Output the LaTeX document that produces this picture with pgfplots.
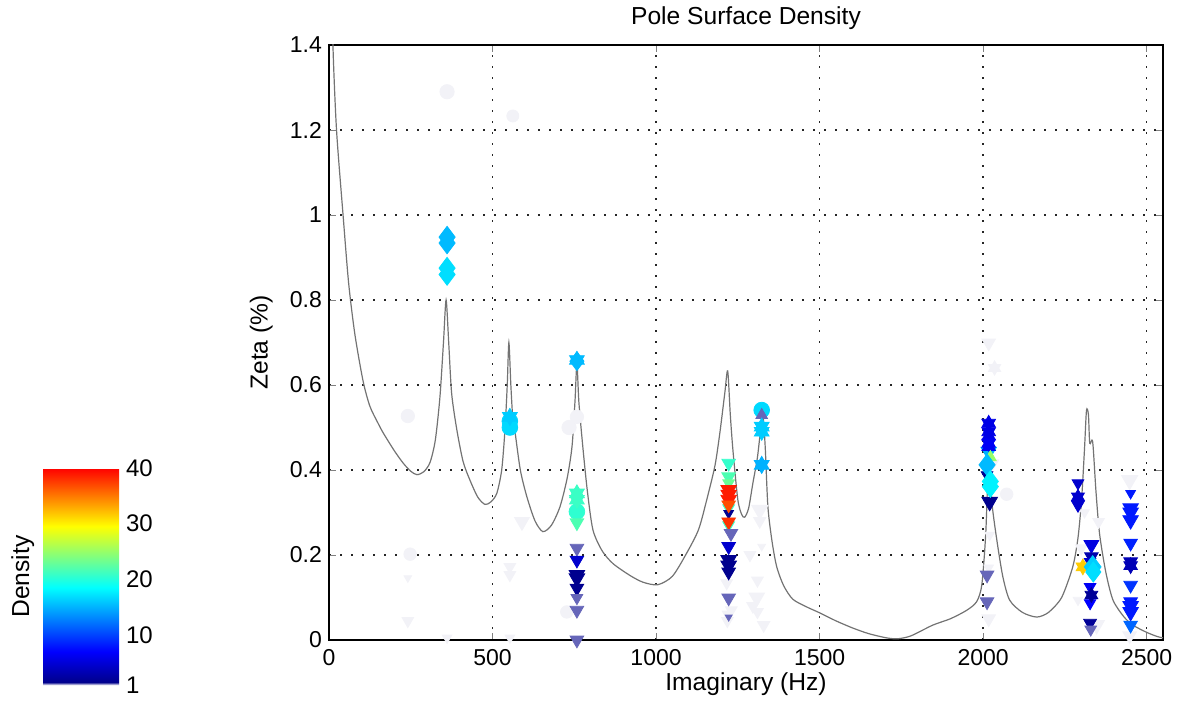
\documentclass[border=0pt]{standalone}
\usepackage{fontspec}
\setmainfont{Liberation Sans}
\usepackage{pgfplots}
\pgfplotsset{compat=1.18}
\pgfplotsset{
  dens/.style={scatter, only marks, point meta=explicit,
    scatter/use mapped color={draw=mapped color, fill=mapped color},
    visualization depends on={1.12*\thisrow{s}\as\ms},
    scatter/@pre marker code/.append style={/tikz/mark size=\ms}},
}
\begin{document}
\begin{tikzpicture}
\path[use as bounding box] (-164.5pt,-33pt) rectangle (426pt,320pt);
\begin{axis}[
  at={(0,0)}, anchor=south west,
  scale only axis, width=417pt, height=297.5pt,
  xmin=0, xmax=2550, ymin=0, ymax=1.4,
  xtick={0,500,1000,1500,2000,2500},
  ytick={0,0.2,0.4,0.6,0.8,1,1.2,1.4},
  tick pos=both, tick align=inside, major tick length=3.5pt,
  scaled ticks=false,
  /pgf/number format/1000 sep={},
  /pgf/number format/assume math mode=true,
  tick label style={font=\fontsize{11.5}{13}\selectfont},
  xticklabel style={yshift=-1.2pt},
  label style={font=\fontsize{12.3}{14}\selectfont},
  every axis title shift=0pt,
  title style={font=\fontsize{12.3}{14}\selectfont, at={(axis description cs:0.5,1.0336)}, anchor=base, yshift=0pt},
  title={Pole Surface Density},
  xlabel={Imaginary (Hz)},
  ylabel={Zeta (\%)},
  xlabel style={at={(axis description cs:0.5,-0.085)}, anchor=base},
  ylabel style={at={(axis description cs:-0.0736,0.5)}, anchor=base},
  axis line style={line width=0.9pt},
  grid=major,
  grid style={black!85, line width=0.8pt, dash pattern=on 0.8pt off 4.7pt},
  clip mode=individual,
  colormap={dens}{rgb(0pt)=(0.95,0.95,0.97); rgb(5pt)=(0,0,0.55); rgb(60pt)=(0,0,1); rgb(175pt)=(0,1,1); rgb(285pt)=(1,1,0); rgb(390pt)=(1,0,0)},
  point meta min=1, point meta max=40,
  colorbar,
  colorbar/width=38pt,
  colorbar style={
    at={(-151.5pt,-22.5pt)}, anchor=south west, xshift=0pt, yshift=0pt,
    scale only axis, width=38pt, height=108.5pt,
    ymin=1, ymax=40,
    ytick={1,10,20,30,40},
    yticklabel pos=right,
    major tick length=0pt,
    axis line style={draw=none},
    tick label style={font=\fontsize{12}{14}\selectfont},
    /pgf/number format/assume math mode=true,
    ylabel={Density},
    ylabel style={font=\fontsize{12.3}{14}\selectfont, at={(axis description cs:-0.184,0.5)}, anchor=base},
  },
]
% response curve
\addplot[no marks, smooth, tension=0.45, line width=0.6pt, color=black!55] coordinates {
(8,1.60) (12,1.40) (23,1.20) (43,1.00) (60,0.84) (79,0.72) (104,0.61) (125,0.55) (150,0.51)
(166,0.487) (200,0.445) (227,0.416) (250,0.397) (269,0.389) (290,0.396) (309,0.418)
(325,0.47) (339,0.57) (350,0.70) (358,0.80) (366,0.70) (375,0.58) (391,0.494) (410,0.42)
(431,0.376) (455,0.336) (477,0.319) (495,0.325) (513,0.345) (528,0.40) (538,0.494)
(545,0.60) (550,0.70) (556,0.60) (562,0.52) (568,0.494) (585,0.40) (605,0.337) (630,0.28)
(654,0.255) (680,0.27) (706,0.313) (728,0.38) (743,0.455) (752,0.56) (758,0.65) (764,0.56)
(776,0.455) (790,0.35) (807,0.259) (835,0.21) (868,0.18) (920,0.152) (960,0.136)
(1005,0.130) (1050,0.150) (1094,0.205) (1130,0.26) (1155,0.33) (1180,0.41) (1195,0.487)
(1210,0.58) (1219,0.633) (1227,0.53) (1235,0.447) (1250,0.33) (1262,0.295) (1271,0.289)
(1283,0.31) (1296,0.369) (1310,0.43) (1322,0.51) (1328,0.52) (1334,0.45) (1342,0.313)
(1355,0.23) (1369,0.172) (1390,0.128) (1418,0.096) (1460,0.078) (1500,0.064) (1550,0.045)
(1602,0.028) (1650,0.015) (1705,0.005) (1740,0.003) (1780,0.01) (1846,0.035) (1900,0.05)
(1950,0.07) (1980,0.09) (1996,0.13) (2008,0.25) (2015,0.40) (2020,0.44) (2026,0.33)
(2041,0.24) (2060,0.15) (2081,0.094) (2120,0.065) (2164,0.054) (2200,0.065) (2240,0.10)
(2274,0.172) (2290,0.24) (2301,0.33) (2310,0.45) (2316,0.54) (2322,0.53) (2326,0.463)
(2335,0.466) (2345,0.35) (2356,0.25) (2375,0.16) (2397,0.094) (2430,0.055) (2458,0.035)
(2500,0.018) (2533,0.008) (2550,0.005)
};
% grey circles
\addplot[dens, mark=*] table[x=x, y=y, meta=c] {
x y c s
361 1.29 1 3.2
562 1.233 1 2.7
241 0.527 1 3
248 0.202 1 2.8
758 0.525 1 3
734 0.50 1 3.2
727 0.066 1 2.8
2072 0.343 1 2.8
};
% grey triangles down
\addplot[dens, mark=triangle*, mark options={rotate=180}] table[x=x, y=y, meta=c] {
x y c s
241 0.146 1 2.0
241 0.045 1 3.0
361 0.005 1 2.5
553 0.172 1 3
553 0.153 1 3
553 0.005 1 2.5
590 0.278 1 3.8
1216 0.134 1 3
1220 0.06 1 3
1218 0.045 1 3
1225 0.10 1 2.5
1230 0.07 1 3
1317 0.306 1 4.2
1317 0.28 1 3.2
1323 0.22 1 2
1287 0.20 1 3
1310 0.14 1 3
1308 0.10 1 4
1296 0.08 1 3.2
1310 0.066 1 3
1329 0.035 1 3.2
2017 0.699 1 3.5
2035 0.64 1 3.2
2030 0.416 1 3
2020 0.247 1 2.5
2017 0.17 1 2.5
2017 0.05 1 3.5
2310 0.30 1 2.5
2353 0.278 1 3
2300 0.216 1 3
2290 0.094 1 2.5
2347 0.035 1 4
2448 0.376 1 4.2
2448 0.01 1 3.5
};
\addplot[dens, mark=triangle*] table[x=x, y=y, meta=c] {
x y c s
2035 0.64 1 3.2
};
% coloured circles
\addplot[dens, mark=*] table[x=x, y=y, meta=c] {
x y c s
553 0.50 16.8 3.5
553 0.515 16.8 3.5
758 0.302 20.5 3.5
1323 0.541 16.8 3.5
};
% coloured triangles down
\addplot[dens, mark=triangle*, mark options={rotate=180}] table[x=x, y=y, meta=c] {
x y c s
758 0.276 21.8 3.5
758 0.216 1.29 3.5
758 0.188 4.6 3.5
758 0.153 1.6 4
758 0.145 1.6 4
758 0.122 1.7 3.5
758 0.099 1.29 3
758 0.07 1.29 3.5
758 0.0 1.29 3.5
1222 0.416 20.7 3.5
1222 0.384 21.8 3.5
1222 0.369 23 3
1222 0.31 21 3
1222 0.27 21 3
1222 0.298 1.7 2.5
1222 0.353 38.9 4
1222 0.342 38.9 4
1222 0.33 38.9 4
1222 0.318 36.8 3.5
1222 0.278 37.9 3.5
1229 0.251 1.29 3.5
1222 0.22 4.6 3.5
1222 0.188 1.6 4
1222 0.175 1.6 4
1222 0.16 1.6 3.5
1222 0.099 1.29 3.5
1222 0.054 1.29 1.8
2017 0.443 15 4
2012 0.388 1.7 3
2020 0.325 1.6 4
2012 0.153 1.29 3.5
2012 0.09 1.29 3.5
2290 0.369 4.6 3
2290 0.318 4.6 3.3
2331 0.224 5.5 3.8
2331 0.196 3 3.5
2327 0.184 4.6 3
2327 0.125 6.5 3
2327 0.087 7 3
2327 0.04 2 3.3
2329 0.025 1.29 3
2451 0.345 8.15 2.5
2451 0.31 8.15 4
2451 0.30 8.15 4
2451 0.282 8.15 4
2451 0.228 8.5 3.5
2451 0.184 3.5 3.5
2451 0.129 9.3 3.5
2451 0.09 8.15 3.5
2451 0.08 8.15 4
2451 0.066 8.15 4
2451 0.035 11.6 3.5
};
% coloured triangles up
\addplot[dens, mark=triangle*] table[x=x, y=y, meta=c] {
x y c s
1323 0.529 1.29 3
2017 0.48 6 3.5
2017 0.455 6.5 3.5
2022 0.43 25 3
};
% hexagrams (up + down)
\addplot[dens, mark=triangle*] table[x=x, y=y, meta=c] {
x y c s
553 0.525 16.2 3.8
758 0.659 15.4 3.8
758 0.345 21 3.8
758 0.33 21 3.8
1323 0.502 16.2 3.8
1323 0.49 16.2 3.8
1323 0.412 15 3.8
2017 0.51 5.8 3.5
2017 0.49 5.8 3.5
2017 0.463 6.5 3.5
2290 0.337 4.6 3.3
2331 0.106 2 3.3
2451 0.175 3.5 3.5
2305 0.172 31.6 3.5
};
\addplot[dens, mark=triangle*, mark options={rotate=180}] table[x=x, y=y, meta=c] {
x y c s
553 0.525 16.2 3.8
758 0.659 15.4 3.8
758 0.345 21 3.8
758 0.33 21 3.8
1323 0.502 16.2 3.8
1323 0.49 16.2 3.8
1323 0.412 15 3.8
2017 0.51 5.8 3.5
2017 0.49 5.8 3.5
2017 0.463 6.5 3.5
2290 0.337 4.6 3.3
2331 0.106 2 3.3
2451 0.175 3.5 3.5
2305 0.172 31.6 3.5
};
% diamonds
\addplot[dens, mark=diamond*] table[x=x, y=y, meta=c] {
x y c s
361 0.948 15.4 4.8
361 0.934 15.4 4.8
361 0.875 17 4.8
361 0.86 17 4.8
758 0.656 15.4 4.2
2012 0.412 15.4 4.8
2022 0.373 17.9 4.8
2022 0.361 17.9 4.8
2335 0.172 16.2 5
2337 0.16 17 4.5
};
\end{axis}
\end{tikzpicture}
\end{document}
